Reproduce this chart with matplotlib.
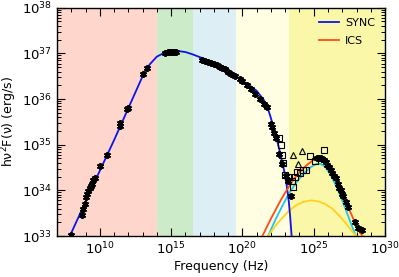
import numpy as np
import matplotlib
matplotlib.use("Agg")
import matplotlib.pyplot as plt
from matplotlib.ticker import LogLocator, NullFormatter, FixedLocator

plt.rcParams['font.family'] = ['DejaVu Sans']
plt.rcParams['mathtext.default'] = 'regular'

# Bands (log10 frequency boundaries) and colours
band_edges = [7.0, 14.0, 16.53, 19.58, 23.26, 30.0]
band_colors = ['#FFD6CC', '#CCEBC8', '#DDEFF5', '#FFFDE2', '#FBF7A8']

# Synchrotron model (log nu, log nuF)
sync_lognu = [7.9, 9.0, 10.0, 11.0, 12.0, 12.5, 13.0, 13.5, 14.0, 14.5, 15.0, 15.5, 16.0,
              16.5, 17.0, 17.5, 18.0, 18.5, 19.0, 19.5, 20.0, 20.5, 21.0, 21.5, 21.8,
              22.0, 22.3, 22.6, 22.9, 23.1, 23.25, 23.35, 23.45]
sync_logF = [33.0, 33.75, 34.43, 35.1, 35.8, 36.15, 36.5, 36.76, 36.93, 37.01, 37.05, 37.05, 37.03,
             36.98, 36.92, 36.86, 36.79, 36.71, 36.62, 36.52, 36.4, 36.3, 36.18, 35.98, 35.78,
             35.58, 35.25, 34.88, 34.47, 34.12, 33.76, 33.42, 33.0]

# ICS total model
ics_lognu = [21.4, 22.0, 22.68, 23.0, 23.5, 24.0, 24.5, 25.0, 25.35, 25.7, 26.0, 26.5,
             27.0, 27.5, 28.0, 28.3, 28.43]
ics_logF = [33.0, 33.38, 33.78, 33.95, 34.2, 34.4, 34.55, 34.67, 34.72, 34.68, 34.55, 34.3,
            33.95, 33.57, 33.22, 33.05, 33.0]

# ICS component 1 (cyan)
ics1_lognu = [21.8, 22.3, 22.8, 23.3, 23.8, 24.3, 24.8, 25.2, 25.5, 25.8, 26.2, 26.6,
              27.0, 27.4, 27.7, 27.96]
ics1_logF = [33.0, 33.35, 33.66, 33.95, 34.18, 34.37, 34.51, 34.58, 34.58, 34.52, 34.33, 34.08,
             33.78, 33.45, 33.2, 33.0]

# ICS component 2 (yellow)
ics2_lognu = [21.8, 22.3, 22.8, 23.3, 23.8, 24.3, 24.8, 25.3, 25.8, 26.3, 26.8, 27.3, 27.7, 28.0]
ics2_logF = [33.0, 33.22, 33.4, 33.56, 33.68, 33.75, 33.78, 33.76, 33.7, 33.6, 33.44, 33.26, 33.1, 33.0]

# Data points (asterisks)
ast_lognu = [7.98, 8.75, 8.85, 8.94, 9.05, 9.1, 9.2, 9.3, 9.4, 9.46, 9.55, 9.65, 10.0, 10.49,
             11.41, 11.45, 11.92, 11.95, 13.05, 13.33,
             14.6, 14.75, 14.9, 15.05, 15.2, 15.35,
             17.2, 17.4, 17.6, 17.8, 18.0, 18.2, 18.4, 18.6, 18.8, 19.0,
             19.2, 19.5, 19.8, 20.0, 20.3, 20.6, 20.9, 21.2, 21.5, 21.74,
             21.97, 22.05, 22.2, 22.32, 22.56, 22.79, 23.03, 23.19, 23.38,
             25.26, 25.37, 25.5, 25.61, 25.75, 25.85, 25.95, 26.08, 26.2, 26.3, 26.42, 26.55,
             26.71, 26.8, 26.9, 27.0, 27.08, 27.25, 27.37, 27.89, 28.12, 28.36]
ast_logF = [33.02, 33.47, 33.6, 33.71, 33.85, 33.93, 33.98, 34.05, 34.1, 34.14, 34.22, 34.27, 34.53, 34.77,
            35.42, 35.47, 35.78, 35.8, 36.55, 36.67,
            37.0, 37.02, 37.03, 37.04, 37.04, 37.04,
            36.86, 36.84, 36.82, 36.79, 36.77, 36.74, 36.71, 36.69, 36.66, 36.6,
            36.55, 36.5, 36.45, 36.4, 36.3, 36.22, 36.12, 36.0, 35.9, 35.82,
            35.45, 35.39, 35.25, 35.14, 34.8, 34.58, 34.31, 34.2, 33.88,
            34.71, 34.7, 34.7, 34.69, 34.66, 34.62, 34.56, 34.51, 34.45, 34.38, 34.32, 34.26,
            34.13, 34.06, 34.0, 33.93, 33.88, 33.74, 33.63, 33.3, 33.18, 33.13]

# Open squares
sq_lognu = [22.6, 22.7, 22.75, 22.85, 23.0, 23.2, 23.45, 23.55, 23.7, 23.85, 24.05, 24.25,
            24.45, 24.75, 25.07, 25.75]
sq_logF = [35.15, 35.0, 34.78, 34.6, 34.33, 34.3, 34.2, 34.08, 34.3, 34.4, 34.38, 34.45,
           34.45, 34.75, 34.64, 34.88]

# Open triangles
tri_lognu = [23.57, 23.89, 24.2]
tri_logF = [34.77, 34.57, 34.87]

p = lambda a: np.power(10.0, np.array(a))

fig = plt.figure(figsize=(3.99, 2.77), dpi=100)
ax = fig.add_axes([0.1429, 0.148, 0.965 - 0.1429, 0.972 - 0.148])

for i in range(len(band_colors)):
    ax.axvspan(10 ** band_edges[i], 10 ** band_edges[i + 1], color=band_colors[i], lw=0, zorder=0)

ax.plot(p(sync_lognu), p(sync_logF), color='#0A14F0', lw=1.3, zorder=3, label='SYNC')
ax.plot(p(ics_lognu), p(ics_logF), color='#FF4A1A', lw=1.3, zorder=3, label='ICS')
ax.plot(p(ics1_lognu), p(ics1_logF), color='#18C8F0', lw=1.3, zorder=2)
ax.plot(p(ics2_lognu), p(ics2_logF), color='#FFD21E', lw=1.3, zorder=2)

ax.plot(p(ast_lognu), p(ast_logF), ls='none', marker=(6, 2, 0), ms=5, mew=1.3,
        color='black', zorder=4)
ax.plot(p(sq_lognu), p(sq_logF), ls='none', marker='s', ms=5, mew=0.8,
        mfc='none', mec='black', zorder=4)
ax.plot(p(tri_lognu), p(tri_logF), ls='none', marker='^', ms=5, mew=0.8,
        mfc='none', mec='black', zorder=4)

ax.set_xscale('log')
ax.set_yscale('log')
ax.set_xlim(1e7, 1e30)
ax.set_ylim(1e33, 1e38)

ax.xaxis.set_major_locator(FixedLocator([1e10, 1e15, 1e20, 1e25, 1e30]))
ax.set_xticklabels(['$10^{10}$', '$10^{15}$', '$10^{20}$', '$10^{25}$', '$10^{30}$'])
ax.xaxis.set_minor_locator(FixedLocator([10.0 ** k for k in range(7, 31)]))
ax.xaxis.set_minor_formatter(NullFormatter())
ax.yaxis.set_major_locator(FixedLocator([10.0 ** k for k in range(33, 39)]))
ax.set_yticklabels(['$10^{%d}$' % k for k in range(33, 39)])
ax.yaxis.set_minor_locator(LogLocator(base=10, subs=np.arange(2, 10), numticks=20))
ax.yaxis.set_minor_formatter(NullFormatter())

ax.tick_params(which='both', direction='in', top=True, right=True, labelsize=9.5, color='black')
ax.tick_params(which='major', length=6, width=0.8)
ax.tick_params(which='minor', length=3, width=0.7)
for s in ax.spines.values():
    s.set_linewidth(1.0)

ax.set_xlabel('Frequency (Hz)', fontsize=9, labelpad=2)
ax.set_ylabel(r'h$\nu^2$F($\nu$) (erg/s)', fontsize=9, labelpad=2)

leg = ax.legend(loc='upper right', frameon=False, fontsize=8, handlelength=1.8,
                handletextpad=0.5, borderaxespad=0.5, labelspacing=0.7)

fig.savefig('out.png', dpi=100)
